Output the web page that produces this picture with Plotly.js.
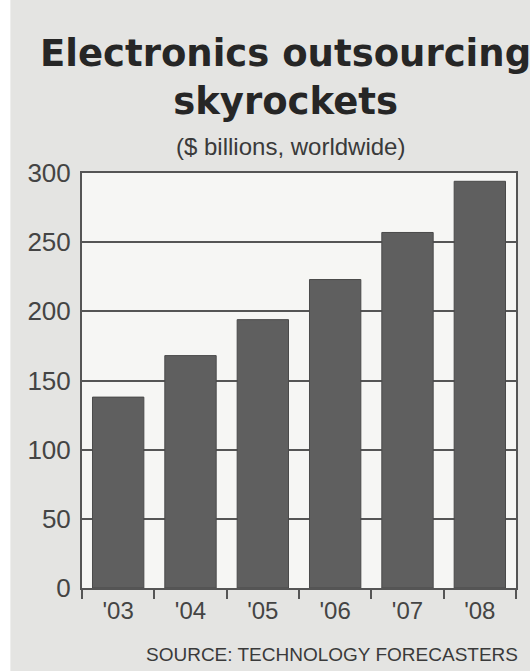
<!DOCTYPE html>
<html><head><meta charset="utf-8">
<script src="https://cdn.plot.ly/plotly-3.0.1.min.js"></script>
<style>html,body{margin:0;padding:0;background:#e4e4e2;}#chart{width:530px;height:671px;}</style>
</head><body><div id="chart"></div>
<script>
const years = ["'03", "'04", "'05", "'06", "'07", "'08"];
const revenue = [138, 168, 194, 223, 257, 294];
const yTicks = [0, 50, 100, 150, 200, 250, 300];
const titleLines = ["Electronics outsourcing", "skyrockets"];
const subtitle = "($ billions, worldwide)";
const sourceText = "SOURCE: TECHNOLOGY FORECASTERS";

const data = [{
  type: 'bar', x: years, y: revenue,
  marker: {color: '#5f5f5f', line: {color: '#4a4a4a', width: 1}},
  hoverinfo: 'skip'
}];
const layout = {
  width: 530, height: 671,
  margin: {l: 82, r: 14, t: 173, b: 83},
  paper_bgcolor: '#e4e4e2', plot_bgcolor: '#f6f6f4',
  bargap: 0.29, showlegend: false,
  font: {family: 'Liberation Sans, Arial, sans-serif', color: '#3a3a3a'},
  xaxis: {type: 'category', showline: true, linecolor: '#555', linewidth: 2, mirror: true,
    ticks: 'outside', tickson: 'boundaries', ticklen: 9, tickwidth: 2, tickcolor: '#555',
    showgrid: false, tickfont: {size: 24, color: '#444'}},
  yaxis: {range: [0, 300], tickvals: yTicks, ticktext: yTicks.map(String),
    showline: true, linecolor: '#555', linewidth: 2, mirror: true,
    showgrid: true, gridcolor: '#555', gridwidth: 2, zeroline: false, ticks: '',
    ticklabelstandoff: 4, tickfont: {size: 26, color: '#444'}},
  annotations: [
    {text: titleLines.join('<br>'), xref: 'paper', yref: 'paper', x: 0.47, y: 1.345, xanchor: 'center', yanchor: 'top', showarrow: false,
     font: {family: 'DejaVu Sans, sans-serif', size: 37, color: '#262626', weight: 700}},
    {text: subtitle, xref: 'paper', yref: 'paper', x: 0.48, y: 1.065, xanchor: 'center', yanchor: 'middle', showarrow: false,
     font: {size: 24, color: '#3a3a3a'}},
    {text: sourceText, xref: 'paper', yref: 'paper', x: 1.01, y: -0.161, xanchor: 'right', yanchor: 'middle', showarrow: false,
     font: {size: 19, color: '#3a3a3a'}}
  ],
  shapes: [
    {type: 'rect', xref: 'paper', yref: 'paper', x0: -0.2, x1: -0.165, y0: -0.3, y1: 1.5, fillcolor: '#ffffff', line: {width: 0}, layer: 'below'}
  ]
};
Plotly.newPlot('chart', data, layout, {displayModeBar: false, staticPlot: true});
</script></body></html>
